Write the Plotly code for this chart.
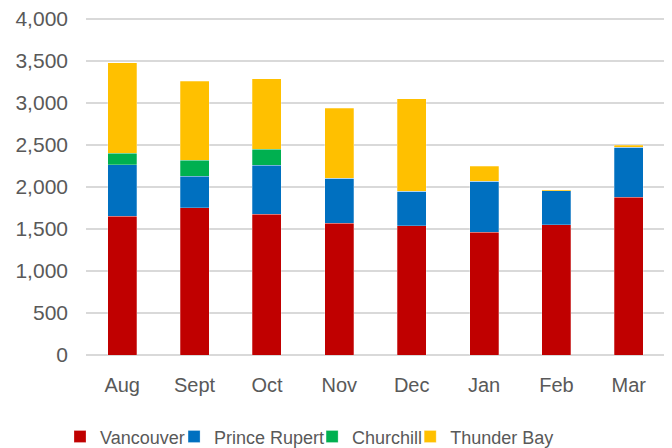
import plotly.graph_objects as go

months = ["Aug", "Sept", "Oct", "Nov", "Dec", "Jan", "Feb", "Mar"]
vancouver = [1650, 1750, 1675, 1565, 1540, 1460, 1550, 1875]
prince_rupert = [610, 375, 580, 535, 405, 605, 405, 595]
churchill = [140, 190, 190, 0, 0, 0, 0, 0]
thunder_bay = [1075, 940, 840, 835, 1105, 180, 12, 25]

series = [
    ("Vancouver", vancouver, "#C00000"),
    ("Prince Rupert", prince_rupert, "#0070C0"),
    ("Churchill", churchill, "#00B050"),
    ("Thunder Bay", thunder_bay, "#FFC000"),
]
legend_ids = ["legend", "legend2", "legend3", "legend4"]
legend_x = [-0.0449, 0.1521, 0.3905, 0.5599]

fig = go.Figure()
for (name, vals, color), lid in zip(series, legend_ids):
    fig.add_trace(go.Bar(
        x=months, y=vals, name=name, legend=lid,
        marker=dict(color=color, line=dict(color="rgba(255,255,255,0.35)", width=0.75)),
    ))

# plot height 336 px covers 0..4000; a little headroom keeps the 4,000 gridline drawn
y_top = 4020
plot_h = 336 * y_top / 4000
top_margin = 440 - 93 - plot_h

legend_common = dict(
    orientation="h", xanchor="left", y=-81.7 / plot_h, yanchor="middle",
    font=dict(size=18, color="#595959"), bgcolor="rgba(0,0,0,0)",
)
layout_legends = {}
for lid, lx in zip(legend_ids, legend_x):
    layout_legends[lid] = dict(legend_common, x=lx)

# the page body adds an 8px margin, so the figure is 664x440 placed at (8, 8)
fig.update_layout(
    barmode="stack",
    bargap=0.6,
    width=664, height=440,
    margin=dict(l=78, r=7.3, t=top_margin, b=93, autoexpand=False),
    plot_bgcolor="white", paper_bgcolor="white",
    font=dict(family="Liberation Sans, Arial, sans-serif", color="#595959"),
    showlegend=True,
    **layout_legends,
)
fig.update_xaxes(
    tickfont=dict(size=20, color="#595959"),
    showline=False, showgrid=False, ticks="", ticklabelstandoff=16,
    automargin=False,
)
fig.update_yaxes(
    range=[0, y_top], tickvals=[0, 500, 1000, 1500, 2000, 2500, 3000, 3500, 4000],
    tickformat=",",
    tickfont=dict(size=21, color="#595959"),
    showgrid=True, gridcolor="#D9D9D9", gridwidth=1.5,
    zeroline=True, zerolinecolor="#D9D9D9", zerolinewidth=1.5,
    showline=False, ticks="", ticklabelstandoff=17,
    automargin=False, ticklabeloverflow="allow",
)

fig.write_html("out.html")
